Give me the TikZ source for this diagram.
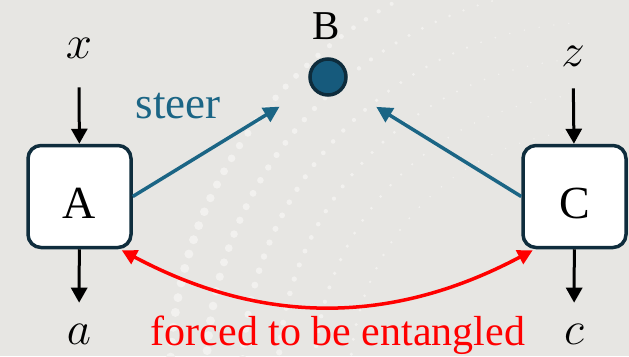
\RequirePackage{fix-cm}
\documentclass[tikz,border=0pt]{standalone}
\usepackage{fontspec}
\newfontfamily\tms{LiberationSerif}[Extension=.ttf, UprightFont=*-Regular]
\usetikzlibrary{arrows.meta,calc}
\definecolor{bgc}{HTML}{E7E6E3}
\definecolor{boxc}{HTML}{0F2D3D}
\definecolor{teal}{HTML}{1B6585}
\definecolor{bfill}{HTML}{165A7C}
\definecolor{bdark}{HTML}{0E2C3C}
\definecolor{redc}{HTML}{FF0000}
\definecolor{dotc}{HTML}{F2F1EF}
\tikzset{
  party/.style={draw=boxc, fill=white, line width=3.5pt, rounded corners=13pt,
    minimum width=103pt, minimum height=102pt, inner sep=0pt},
  bigtext/.style={inner sep=0pt, font=\tms\fontsize{46}{52}\selectfont},
  mathlbl/.style={inner sep=0pt, font=\fontsize{47}{52}\selectfont},
  blk/.style={draw=black, line width=3pt, -{Triangle[length=15pt,width=16pt]}},
  steerarrow/.style={draw=teal, line width=3.5pt, -{Triangle[length=16pt,width=16pt]}},
  entangle/.style={draw=redc, line width=3.5pt,
    {Triangle[length=15pt,width=15pt]}-{Triangle[length=15pt,width=15pt]}},
  bgdot/.style={fill=dotc},
}
\begin{document}
\begin{tikzpicture}[x=1pt,y=-1pt]
\fill[bgc] (0,0) rectangle (629,356);
\useasboundingbox (0,0) rectangle (629,356);
% decorative dot pattern
\begin{scope}
\clip (0,0) rectangle (629,356);
\foreach \r/\s in {250/1.2,286/1.6,322/2.1,358/2.6,394/3.1,430/3.6} {
  \foreach \i in {0,...,42} {
    \pgfmathsetmacro\a{95+\i*15/\r*57.3}
    \pgfmathsetmacro\dr{min(4.5,max(0.8,1.5*\s*(\a-85)/90))}
    \fill[bgdot] ({600+\r*cos(\a)},{380-\r*sin(\a)}) circle (\dr pt);
  }
}
\end{scope}
% parties
\node[party] (A) at (79.5,196.5) {};
\node[bigtext] (Al) at (79.5,203) {A};
\node[party] (C) at (574.5,196.5) {};
\node[bigtext] (Cl) at (574.5,203) {C};
\node[circle, minimum size=36pt, inner sep=0pt, fill=bfill, draw=bdark, line width=3.5pt] (B) at (328,77) {};
\node[inner sep=0pt, font=\tms\fontsize{41}{46}\selectfont] (Bl) at (326,26) {B};
% inputs / outputs
\node[mathlbl] (xl) at (79,48) {$x$};
\node[mathlbl] (zl) at (573,56) {$z$};
\node[mathlbl] (al) at (79,334) {$a$};
\node[mathlbl] (cl) at (574,334) {$c$};
\draw[blk, shorten <=29pt] (xl) -- (A);
\draw[blk, shorten <=22pt] (zl) -- (C);
\draw[blk, shorten >=21pt] (A) -- (al);
\draw[blk, shorten >=21pt] (C) -- (cl);
% steering
\draw[steerarrow, shorten >=37pt] (A.east) -- (B);
\draw[steerarrow, shorten >=37pt] (C.west) -- (B);
\node[inner sep=0pt, text=teal, font=\tms\fontsize{45}{50}\selectfont] (st) at (178,106) {steer};
% entanglement
\draw[entangle] ([shift={(-11pt,-1pt)}]A.south east) .. controls +(141,75) and +(-141,75) .. ([shift={(11.5pt,-1pt)}]C.south west);
\node[inner sep=0pt, text=redc, font=\tms\fontsize{42}{48}\selectfont] (ent) at (338,335) {forced to be entangled};
\end{tikzpicture}
\end{document}
